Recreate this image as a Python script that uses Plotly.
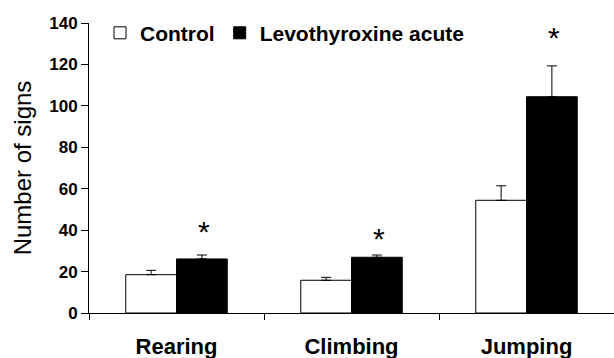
import plotly.graph_objects as go

categories = ["Rearing", "Climbing", "Jumping"]
control_vals = [18.5, 15.8, 54.4]
control_err = [2.1, 1.4, 7.0]
levo_vals = [26.1, 26.9, 104.4]
levo_err = [1.9, 1.1, 14.9]
sig_y = [40.4, 36.7, 133.8]

FONT = "Liberation Sans, Arial, sans-serif"

fig = go.Figure()
fig.add_trace(go.Bar(
    x=categories, y=control_vals, name="Control",
    marker=dict(color="white", line=dict(color="black", width=1)),
    error_y=dict(type="data", array=control_err, arrayminus=[0]*3, symmetric=False,
                 color="black", thickness=1, width=5),
))
fig.add_trace(go.Bar(
    x=categories, y=levo_vals, name="Levothyroxine acute",
    marker=dict(color="black", line=dict(color="black", width=1)),
    error_y=dict(type="data", array=levo_err, arrayminus=[0]*3, symmetric=False,
                 color="black", thickness=1, width=5),
))

for c, yv in zip(categories, sig_y):
    fig.add_annotation(x=c, y=yv, text="*", showarrow=False, xshift=27, yshift=-2,
                       font=dict(family=FONT, size=30, color="black"),
                       xanchor="center", yanchor="middle")

fig.update_layout(
    width=614, height=358,
    margin=dict(l=89, r=0, t=23, b=45),
    paper_bgcolor="white", plot_bgcolor="white",
    barmode="group", bargap=0.42, bargroupgap=0,
    font=dict(family=FONT, color="black"),
    legend=dict(orientation="h", x=0.021, xanchor="left", y=0.965, yanchor="middle",
                font=dict(family=FONT, size=21, color="black", weight="bold"),
                bgcolor="rgba(0,0,0,0)", itemclick=False),
    showlegend=True,
)
fig.update_xaxes(
    type="category", showline=True, linecolor="black", linewidth=1,
    ticks="outside", tickson="boundaries", ticklen=6, tickcolor="black",
    tickfont=dict(family=FONT, size=22, color="black", weight="bold"),
    ticklabelstandoff=14, showgrid=False, zeroline=False,
)
fig.update_yaxes(
    range=[0, 140], dtick=20, showline=True, linecolor="black", linewidth=1,
    ticks="outside", ticklen=7, tickcolor="black", showgrid=False, zeroline=False,
    tickfont=dict(family=FONT, size=17, color="black", weight="bold"),
    title=dict(text="Number of signs", font=dict(family=FONT, size=24, color="black"),
               standoff=10),
)

fig.write_html("out.html", config={"displayModeBar": False},
               post_script="document.body.style.margin='0';document.body.style.padding='0';")
